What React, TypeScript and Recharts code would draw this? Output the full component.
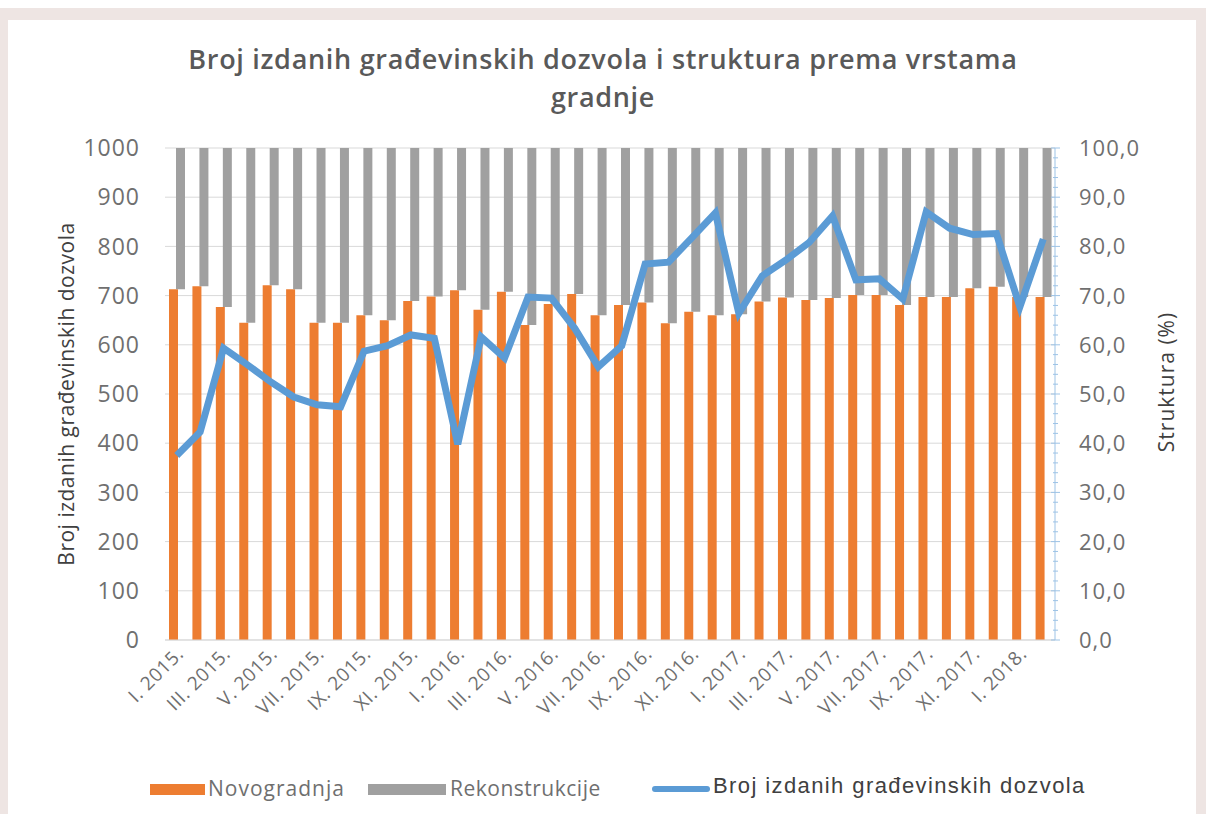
import { ComposedChart, Bar, Line, XAxis, YAxis, CartesianGrid, Legend } from 'recharts'

const months = [
  'I. 2015.', 'II. 2015.', 'III. 2015.', 'IV. 2015.', 'V. 2015.', 'VI. 2015.',
  'VII. 2015.', 'VIII. 2015.', 'IX. 2015.', 'X. 2015.', 'XI. 2015.', 'XII. 2015.',
  'I. 2016.', 'II. 2016.', 'III. 2016.', 'IV. 2016.', 'V. 2016.', 'VI. 2016.',
  'VII. 2016.', 'VIII. 2016.', 'IX. 2016.', 'X. 2016.', 'XI. 2016.', 'XII. 2016.',
  'I. 2017.', 'II. 2017.', 'III. 2017.', 'IV. 2017.', 'V. 2017.', 'VI. 2017.',
  'VII. 2017.', 'VIII. 2017.', 'IX. 2017.', 'X. 2017.', 'XI. 2017.', 'XII. 2017.',
  'I. 2018.', 'II. 2018.',
]

// struktura (%)
const novogradnja = [
  71.3, 71.9, 67.7, 64.5, 72.1, 71.3, 64.5, 64.5, 66.0, 65.0, 68.9, 69.8,
  71.1, 67.1, 70.8, 64.0, 68.3, 70.3, 66.0, 68.1, 68.6, 64.4, 66.7, 66.0,
  66.2, 68.8, 69.6, 69.1, 69.5, 70.1, 70.1, 68.1, 69.7, 69.7, 71.5, 71.8,
  69.7, 69.7,
]
const rekonstrukcije = [
  28.7, 28.1, 32.3, 35.5, 27.9, 28.7, 35.5, 35.5, 34.0, 35.0, 31.1, 30.2,
  28.9, 32.9, 29.2, 36.0, 31.7, 29.7, 34.0, 31.9, 31.4, 35.6, 33.3, 34.0,
  33.8, 31.2, 30.4, 30.9, 30.5, 29.9, 29.9, 31.9, 30.3, 30.3, 28.5, 28.2,
  30.3, 30.3,
]
// broj izdanih dozvola
const brojDozvola = [
  375, 423, 593, 560, 525, 494, 478, 474, 587, 598, 620, 613,
  398, 616, 573, 697, 695, 633, 555, 598, 764, 768, 818, 868,
  664, 740, 772, 808, 862, 732, 734, 693, 870, 837, 824, 826,
  677, 815,
]

const leftTicks = [0, 100, 200, 300, 400, 500, 600, 700, 800, 900, 1000]
const rightTicks = [
  0, 2, 4, 6, 8, 10, 12, 14, 16, 18, 20, 22, 24, 26, 28, 30, 32, 34, 36, 38, 40,
  42, 44, 46, 48, 50, 52, 54, 56, 58, 60, 62, 64, 66, 68, 70, 72, 74, 76, 78, 80,
  82, 84, 86, 88, 90, 92, 94, 96, 98, 100,
]

const data = months.map((m, i) => ({
  name: m,
  novo: novogradnja[i],
  base: novogradnja[i],
  rek: rekonstrukcije[i],
  broj: brojDozvola[i],
}))

const textColor = '#6f6f6f'
const font = '"Open Sans", sans-serif'

const RightTick = (props: any) => {
  const { x, y, payload } = props
  const major = payload.value % 10 === 0
  return (
    <g>
      <line x1={x - (major ? 4 : 2)} x2={x + (major ? 5 : 3)} y1={y} y2={y} stroke="#9dc3e6" strokeWidth={1} />
      {major && (
        <text x={x + 24} y={y} dy={8} fill={textColor} fontSize={22} letterSpacing={1} fontFamily={font}>
          {payload.value.toFixed(1).replace('.', ',')}
        </text>
      )}
    </g>
  )
}

const MonthTick = (props: any) => {
  const { x, y, payload } = props
  const tx = x + 8
  const ty = y + 15
  return (
    <text
      x={tx}
      y={ty}
      transform={`rotate(-45 ${tx} ${ty})`}
      textAnchor="end"
      fill={textColor}
      fontSize={19}
      letterSpacing={0.6}
      fontFamily={font}
    >
      {payload.value}
    </text>
  )
}

const ChartLegend = () => (
  <div style={{ position: 'relative', width: 1206, height: 0 }}>
    <div style={{ position: 'absolute', left: 150, top: 784, width: 55, height: 11, background: '#ed7d31' }} />
    <span style={{ position: 'absolute', left: 208, top: 774, fontSize: 21, letterSpacing: 1, color: textColor, fontFamily: font }}>
      Novogradnja
    </span>
    <div style={{ position: 'absolute', left: 368, top: 784, width: 78, height: 11, background: '#a0a0a0' }} />
    <span style={{ position: 'absolute', left: 450, top: 774, fontSize: 21, letterSpacing: 0.5, color: textColor, fontFamily: font }}>
      Rekonstrukcije
    </span>
    <div style={{ position: 'absolute', left: 652, top: 786, width: 58, height: 6, background: '#5b9bd5', borderRadius: 3 }} />
    <span style={{ position: 'absolute', left: 713, top: 773, fontSize: 22, letterSpacing: 1.4, color: '#404040', fontFamily: '"Liberation Sans", Arial, sans-serif' }}>
      Broj izdanih građevinskih dozvola
    </span>
  </div>
)

export default function App() {
  return (
    <div style={{ position: 'absolute', left: 0, top: 0, width: 1206, height: 819, background: '#ffffff', overflow: 'hidden' }}>
      <div style={{ position: 'absolute', left: 0, top: 8, width: 1206, height: 806, background: '#eee5e3' }} />
      <div style={{ position: 'absolute', left: 8, top: 20, width: 1188, height: 794, background: '#ffffff' }} />
      <div
        style={{
          position: 'absolute',
          left: 0,
          width: 1206,
          top: 40,
          textAlign: 'center',
          fontFamily: font,
          fontWeight: 600,
          fontSize: 27,
          letterSpacing: 0.7,
          lineHeight: '38px',
          color: '#595959',
        }}
      >
        Broj izdanih građevinskih dozvola i struktura prema vrstama
        <br />
        gradnje
      </div>
      <div style={{ position: 'absolute', left: 0, top: 0 }}>
        <ComposedChart
          width={1206}
          height={819}
          data={data}
          margin={{ top: 148, right: 0, bottom: 0, left: 0 }}
          barSize={9}
          barGap={-2}
        >
          <CartesianGrid yAxisId="left" vertical={false} stroke="#d9d9d9" />
          <XAxis
            dataKey="name"
            height={179}
            interval={1}
            tick={<MonthTick />}
            tickLine={false}
            axisLine={{ stroke: '#d9d9d9' }}
            tickSize={0}
            tickMargin={0}
          />
          <YAxis
            yAxisId="left"
            orientation="left"
            width={165}
            domain={[0, 1000]}
            ticks={leftTicks}
            axisLine={false}
            tickLine={false}
            tickSize={0}
            tickMargin={25}
            tick={{ fill: textColor, fontSize: 23, letterSpacing: 1, fontFamily: font }}
            label={{
              value: 'Broj izdanih građevinskih dozvola',
              angle: -90,
              position: 'insideLeft',
              dx: 62,
              style: { fill: '#404040', fontSize: 21, letterSpacing: 0.5, fontFamily: font, textAnchor: 'middle' },
            }}
          />
          <YAxis
            yAxisId="right"
            orientation="right"
            width={151}
            domain={[0, 100]}
            ticks={rightTicks}
            interval={0}
            axisLine={{ stroke: '#9dc3e6' }}
            tickLine={false}
            tickSize={0}
            tickMargin={0}
            tick={<RightTick />}
            label={{
              value: 'Struktura (%)',
              angle: -90,
              position: 'insideRight',
              dx: -34,
              dy: -12,
              style: { fill: '#404040', fontSize: 21, letterSpacing: 1, fontFamily: font, textAnchor: 'middle' },
            }}
          />
          <Legend verticalAlign="bottom" content={<ChartLegend />} wrapperStyle={{ left: 0, top: 0, height: 0, width: 1206 }} />
          <Bar yAxisId="right" dataKey="novo" stackId="a" fill="#ed7d31" name="Novogradnja" isAnimationActive={false} />
          <Bar yAxisId="right" dataKey="base" stackId="b" fill="transparent" legendType="none" isAnimationActive={false} />
          <Bar yAxisId="right" dataKey="rek" stackId="b" fill="#a0a0a0" name="Rekonstrukcije" isAnimationActive={false} />
          <Line
            yAxisId="left"
            dataKey="broj"
            name="Broj izdanih građevinskih dozvola"
            stroke="#5b9bd5"
            strokeWidth={7}
            dot={false}
            strokeLinejoin="miter"
            isAnimationActive={false}
          />
        </ComposedChart>
      </div>
    </div>
  )
}
